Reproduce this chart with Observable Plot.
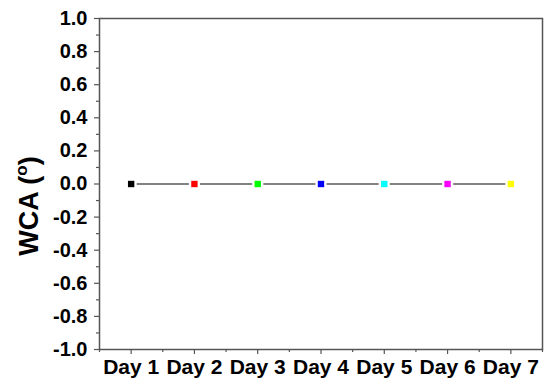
<!DOCTYPE html>
<html>
<head>
<meta charset="utf-8">
<script src="https://cdn.jsdelivr.net/npm/d3@7"></script>
<script src="https://cdn.jsdelivr.net/npm/@observablehq/plot@0.6"></script>
<style>
  html, body { margin: 0; padding: 0; background: #fff; }
  #chart { width: 550px; height: 385px; }
</style>
</head>
<body>
<div id="chart"></div>
<script>
const days = [1, 2, 3, 4, 5, 6, 7];
const dayLabels = ["Day 1", "Day 2", "Day 3", "Day 4", "Day 5", "Day 6", "Day 7"];
const wca = [0, 0, 0, 0, 0, 0, 0];
const markerColors = ["#000000", "#ff0000", "#00ff00", "#0000ff", "#00ffff", "#ff00ff", "#ffff00"];
const yTicks = [-1.0, -0.8, -0.6, -0.4, -0.2, 0.0, 0.2, 0.4, 0.6, 0.8, 1.0];
const yMinorTicks = [-0.9, -0.7, -0.5, -0.3, -0.1, 0.1, 0.3, 0.5, 0.7, 0.9];
const xMinorTicks = [0.5, 1.5, 2.5, 3.5, 4.5, 5.5, 6.5, 7.5];
const yLabel = "WCA (";

const data = days.map((d, i) => ({day: d, label: dayLabels[i], value: wca[i], color: markerColors[i]}));
const axisColor = "#555";

const plot = Plot.plot({
  width: 550,
  height: 385,
  marginLeft: 99,
  marginRight: 8,
  marginTop: 18,
  marginBottom: 36,
  style: {fontFamily: "'Liberation Sans', Arial, sans-serif", color: "#000", background: "#fff"},
  x: {type: "linear", domain: [0.5, 7.5]},
  y: {domain: [-1, 1]},
  marks: [
    Plot.frame({stroke: axisColor, strokeWidth: 1.5}),
    Plot.axisY(yTicks, {tickSize: 5, tickPadding: 7, tickFormat: d => d.toFixed(1), fontSize: 20, fontWeight: "bold", stroke: axisColor, strokeWidth: 1.2, label: null, fill: "#000"}),
    Plot.axisY(yMinorTicks, {tickSize: 3, text: null, stroke: axisColor, strokeWidth: 1.2, label: null}),
    Plot.axisX(days, {tickSize: 5, tickPadding: 5, tickFormat: d => dayLabels[days.indexOf(d)], fontSize: 21, fontWeight: "bold", stroke: axisColor, strokeWidth: 1.2, label: null, fill: "#000"}),
    Plot.axisX(xMinorTicks, {tickSize: 3, text: null, stroke: axisColor, strokeWidth: 1.2, label: null}),
    Plot.line(data, {x: "day", y: "value", stroke: "#5a5a5a", strokeWidth: 1.3}),
    Plot.dot(data, {x: "day", y: "value", symbol: "square", r: 6.3, fill: "#fff", stroke: "none"}),
    Plot.dot(data, {x: "day", y: "value", symbol: "square", r: 3.6, fill: "color", stroke: "none"})
  ]
});

const svg = d3.select(plot);
const t = svg.append("text")
  .attr("transform", "translate(38,206) rotate(-90)")
  .attr("text-anchor", "middle")
  .attr("font-size", 27)
  .attr("font-weight", "bold")
  .attr("fill", "#000");
t.append("tspan").text(yLabel);
t.append("tspan").attr("font-size", 17).attr("dy", -11).text("o");
t.append("tspan").attr("dy", 11).text(")");

document.getElementById("chart").appendChild(plot);
</script>
</body>
</html>
